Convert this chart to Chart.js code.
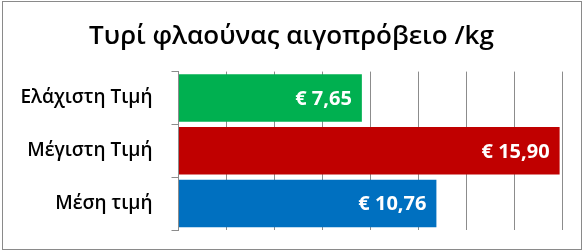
<!DOCTYPE html>
<html>
<head>
<meta charset="utf-8">
<script src="https://cdn.jsdelivr.net/npm/chart.js@4/dist/chart.umd.min.js"></script>
<style>
  html, body { margin: 0; padding: 0; background: #fff; }
  #frame { position: absolute; left: 2px; top: 1px; width: 578px; height: 247px; border: 1px solid #8a8a8a; }
  #wrap { position: absolute; left: 0; top: 0; width: 583px; height: 251px; }
</style>
</head>
<body>
<div id="frame"></div>
<div id="wrap"><canvas id="chart"></canvas></div>
<script>
'use strict';

// ── Data ─────────────────────────────────────────────────────────────────
const TITLE      = 'Τυρί φλαούνας αιγοπρόβειο /kg';
const categories = ['Ελάχιστη Τιμή', 'Μέγιστη Τιμή', 'Μέση τιμή'];
const prices     = [7.65, 15.90, 10.76];
const barColors  = ['#00B050', '#C00000', '#0070C0'];
const axisMax    = 16;
const axisStep   = 2;

const FONT = '"Open Sans", "Noto Sans", sans-serif';

// value labels drawn inside the end of each bar
const valueLabels = {
  id: 'valueLabels',
  afterDatasetsDraw(chart) {
    const ctx = chart.ctx;
    const meta = chart.getDatasetMeta(0);
    ctx.save();
    ctx.font = `bold 20px ${FONT}`;
    ctx.fillStyle = '#fff';
    ctx.textAlign = 'right';
    ctx.textBaseline = 'middle';
    meta.data.forEach((bar, i) => {
      const txt = '€ ' + prices[i].toFixed(2).replace('.', ',');
      ctx.fillText(txt, bar.x - 10, bar.y + 1);
    });
    ctx.restore();
  }
};

new Chart(document.getElementById('chart'), {
  type: 'bar',
  data: {
    labels: categories,
    datasets: [{
      data: prices,
      backgroundColor: barColors,
      borderWidth: 0,
      barPercentage: 0.9,
      categoryPercentage: 1.0
    }]
  },
  options: {
    indexAxis: 'y',
    responsive: true,
    maintainAspectRatio: false,
    animation: false,
    layout: { padding: { left: 21, right: 21, top: 0, bottom: 21 } },
    plugins: {
      legend: { display: false },
      tooltip: { enabled: false },
      title: {
        display: true,
        text: TITLE,
        color: '#000',
        font: { family: FONT, size: 26, weight: 600, lineHeight: 1.1 },
        padding: { top: 22, bottom: 21 }
      }
    },
    scales: {
      x: {
        min: 0, max: axisMax,
        ticks: { display: false, stepSize: axisStep },
        border: { display: false },
        grid: { color: '#8c8c8c', lineWidth: 1, drawTicks: false },
        afterFit(scale) { scale.height = 0; }
      },
      y: {
        ticks: { color: '#000', font: { family: FONT, size: 19, weight: 600 }, padding: 19 },
        border: { display: true, color: '#8c8c8c' },
        grid: { offset: true, drawOnChartArea: false, color: '#8c8c8c', tickLength: 7 },
        afterFit(scale) {
          scale.width = 157.5;
          scale.paddingTop = 0;
          scale.paddingBottom = 0;
        }
      }
    }
  },
  plugins: [valueLabels]
});
</script>
</body>
</html>
